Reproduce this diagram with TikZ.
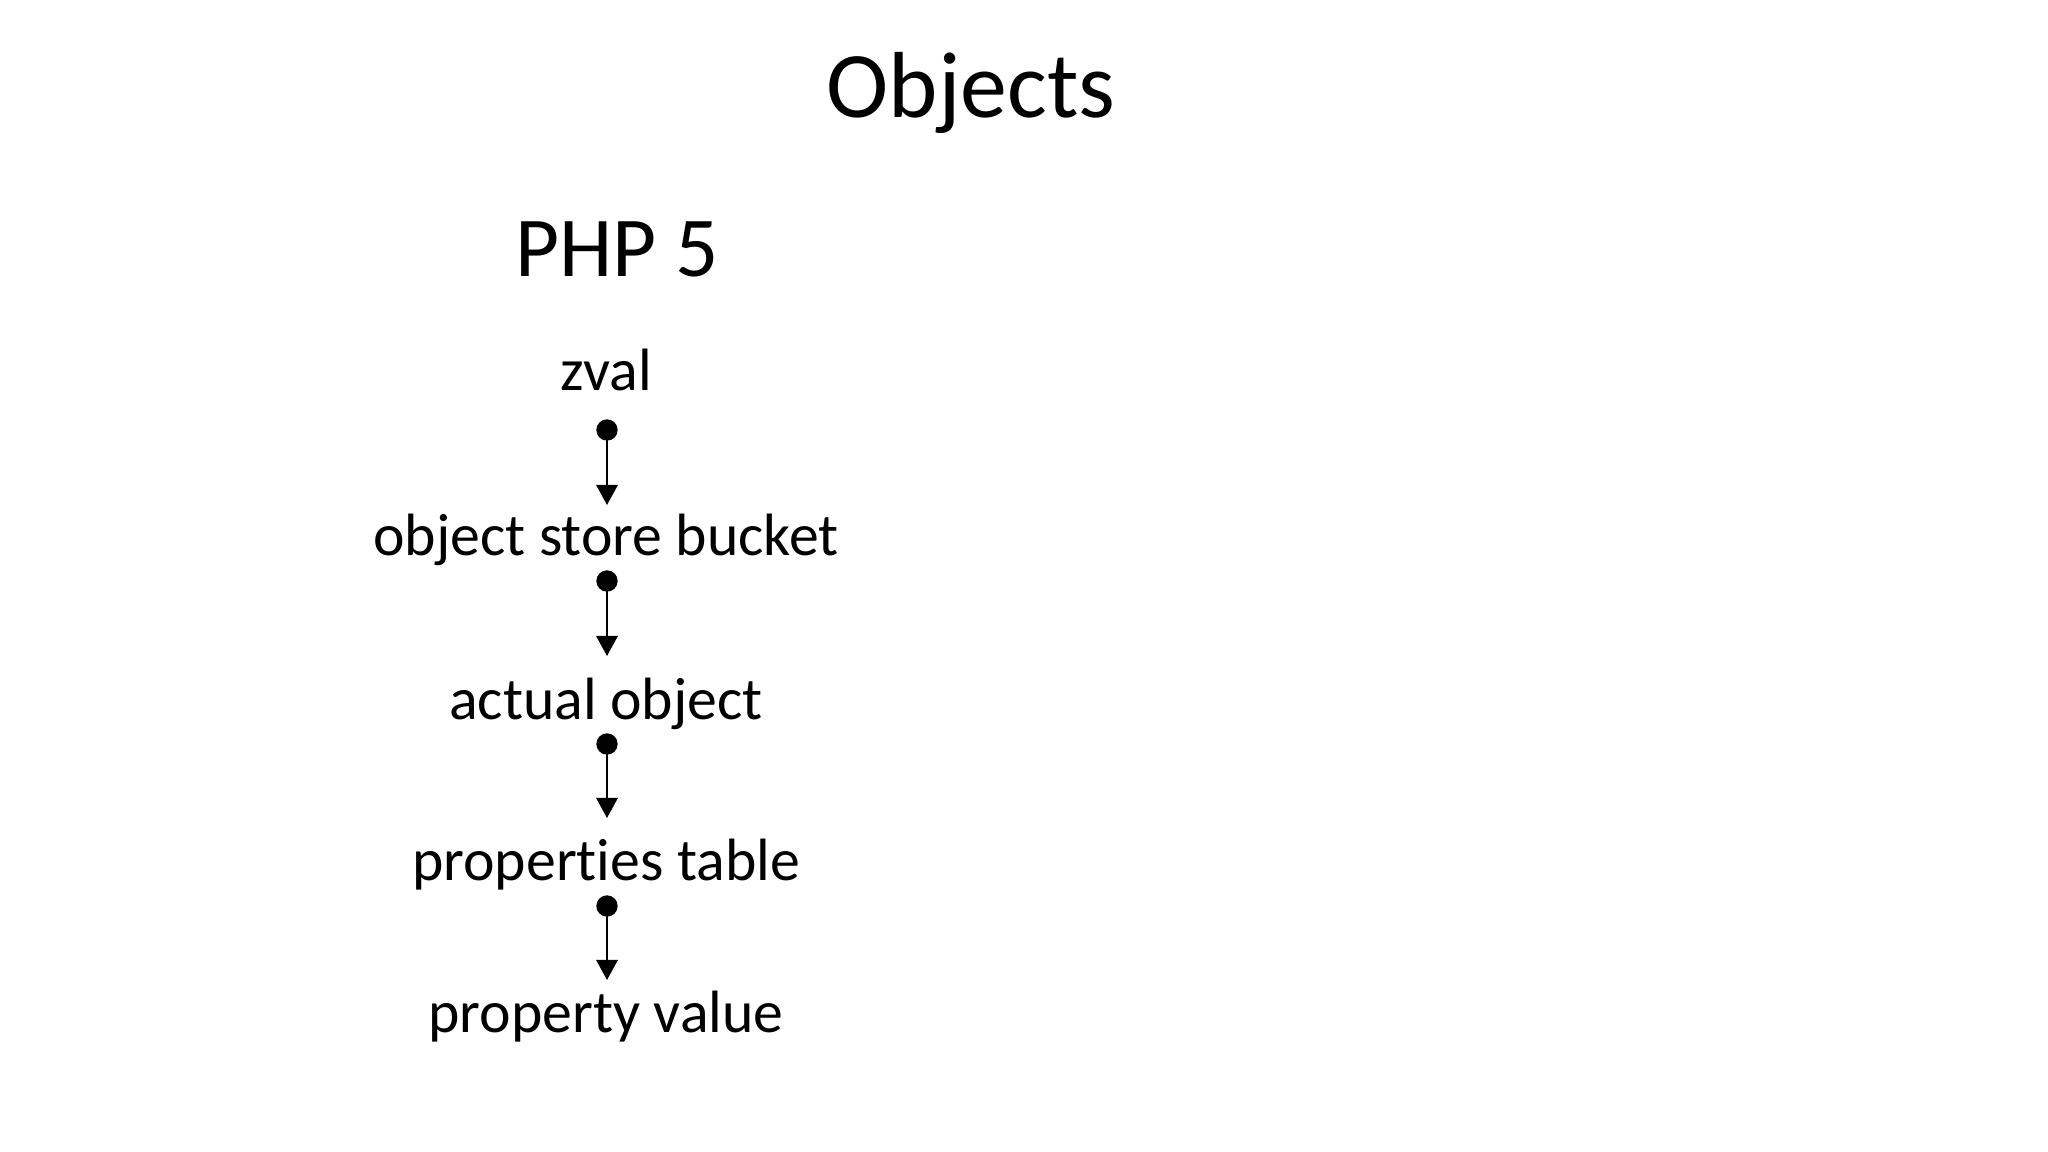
\documentclass[tikz,border=0pt]{standalone}
\usepackage{fontspec}
\setmainfont{Carlito}[Ligatures=NoCommon]
\usetikzlibrary{arrows.meta}
\tikzset{
  txt/.style={anchor=base, inner sep=0pt, font=\fontsize{28}{34}\selectfont},
  ttl/.style={anchor=base, inner sep=0pt, font=\fontsize{44}{52}\selectfont},
  sub/.style={anchor=base, inner sep=0pt, font=\fontsize{40}{48}\selectfont},
  dotnode/.style={circle, fill=black, inner sep=0pt, minimum size=10pt},
  conn/.style={line width=1pt, -{Triangle[width=10pt,length=9.4pt]}}
}
\begin{document}
\begin{tikzpicture}[x=0.46875pt, y=-0.46875pt]
\useasboundingbox (0,0) rectangle (2048,1152);
\node[ttl] (title) at (971,118) {Objects};
\node[sub] (php) at (617,277) {PHP 5};
\node[txt] (zval) at (606,390) {zval};
\node[txt] (osb) at (606,555) {object store bucket};
\node[txt] (ao) at (606,719) {actual object};
\node[txt] (pt) at (606,880) {properties table};
\node[txt] (pv) at (606,1032) {property value};
\node[dotnode] (d1) at (607,430) {};
\node[dotnode] (d2) at (607,581) {};
\node[dotnode] (d3) at (607,744) {};
\node[dotnode] (d4) at (607,906) {};
\coordinate (t1) at (607,505);
\coordinate (t2) at (607,656);
\coordinate (t3) at (607,818);
\coordinate (t4) at (607,980);
\draw[conn] (d1.center) -- (t1);
\draw[conn] (d2.center) -- (t2);
\draw[conn] (d3.center) -- (t3);
\draw[conn] (d4.center) -- (t4);
\end{tikzpicture}
\end{document}
